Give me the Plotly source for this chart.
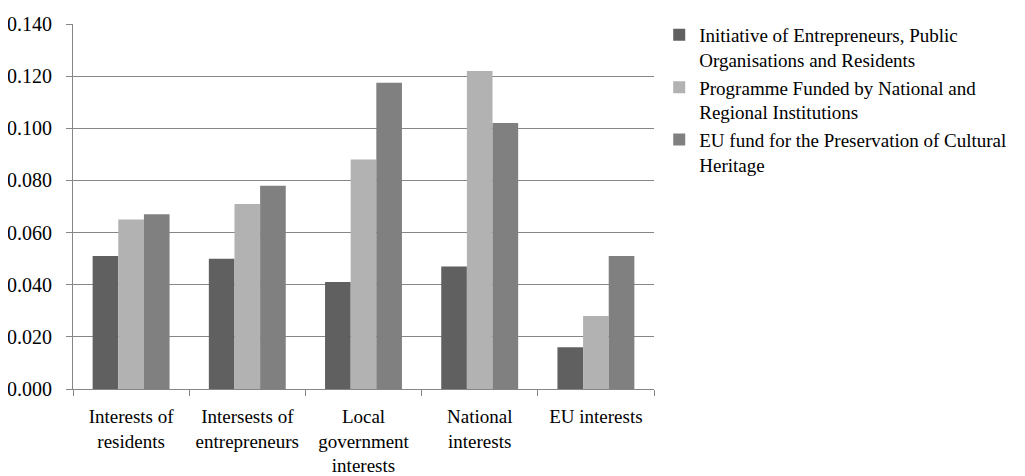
import plotly.graph_objects as go

categories = ["Interests of<br>residents", "Intersests of<br>entrepreneurs",
              "Local<br>government<br>interests", "National<br>interests", "EU interests"]
series_names = ["Initiative of Entrepreneurs, Public<br>Organisations and Residents",
                "Programme Funded by National and<br>Regional Institutions",
                "EU fund for the Preservation of Cultural<br>Heritage"]
initiative = [0.051, 0.050, 0.041, 0.047, 0.016]
programme = [0.065, 0.071, 0.088, 0.122, 0.028]
eu_fund = [0.067, 0.078, 0.1175, 0.102, 0.051]
colors = ["#606060", "#b2b2b2", "#808080"]

font_family = "Liberation Serif"

fig = go.Figure()
for name, vals, c in zip(series_names, [initiative, programme, eu_fund], colors):
    fig.add_trace(go.Bar(x=categories, y=vals, name=name, marker=dict(color=c, line=dict(width=0))))

fig.update_layout(
    width=1017, height=468,
    margin=dict(l=65, r=371, t=16, b=87, autoexpand=False),
    paper_bgcolor="white", plot_bgcolor="white",
    barmode="group", bargap=0.338, bargroupgap=0,
    font=dict(family=font_family, size=20, color="black"),
    legend=dict(x=1.009, y=1.022, xanchor="left", yanchor="top", valign="top",
                font=dict(family=font_family, size=19, color="black"),
                itemwidth=30),
    showlegend=True,
)
fig.update_xaxes(showline=True, linecolor="#868686", linewidth=1,
                 ticks="outside", tickson="boundaries", ticklen=6, tickcolor="#868686",
                 showgrid=False, tickfont=dict(family=font_family, size=19),
                 tickangle=0, automargin=False, ticklabelstandoff=10)
fig.update_yaxes(range=[0, 0.14], dtick=0.02, tickformat=".3f",
                 showline=True, linecolor="#868686", linewidth=1,
                 ticks="outside", ticklen=6, tickcolor="#868686",
                 showgrid=True, gridcolor="#868686", gridwidth=1,
                 zeroline=False, tickfont=dict(family=font_family, size=20),
                 automargin=False, ticklabelstandoff=10)

fig.write_html("out.html")
